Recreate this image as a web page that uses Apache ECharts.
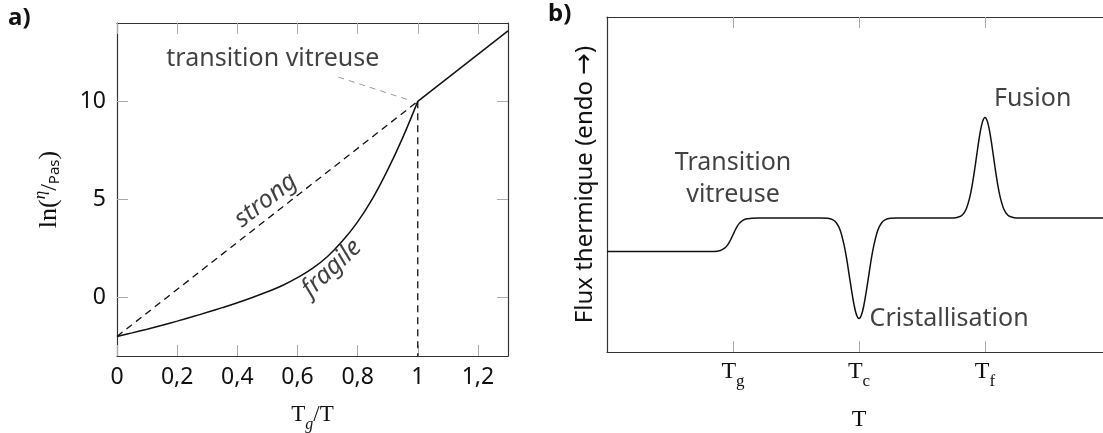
<!DOCTYPE html>
<html>
<head>
<meta charset="utf-8">
<script src="https://cdn.jsdelivr.net/npm/echarts@6/dist/echarts.min.js"></script>
<style>
html,body{margin:0;padding:0;background:#fff;}
#chart{width:1103px;height:433px;}
</style>
</head>
<body>
<div id="chart"></div>
<script>
// ---------- Panel a) : viscosity vs Tg/T ----------
const aXTicks = [0, 0.2, 0.4, 0.6, 0.8, 1.0, 1.2];
const aYTicks = [0, 5, 10];
const fragileX = [0, 0.05, 0.1, 0.15, 0.2, 0.25, 0.3, 0.35, 0.4, 0.45, 0.5, 0.55, 0.6, 0.65, 0.7, 0.75, 0.8, 0.85, 0.9, 0.95, 1.0];
const fragileY = [-2, -1.82, -1.63, -1.43, -1.22, -1.0, -0.77, -0.53, -0.28, -0.01, 0.28, 0.6, 1.0, 1.47, 2.08, 2.88, 3.85, 5.05, 6.5, 8.15, 10];
const strongX = [0, 1];
const strongY = [-2, 10];
const liquidX = [1, 1.3];
const liquidY = [10, 13.6];
const tgLineX = [1, 1];
const tgLineY = [10, -3];
const pointerX = [0.736, 0.964];
const pointerY = [11.24, 10.1];
const aNoteText = ['transition vitreuse', 'strong', 'fragile'];
const aNoteX = [0.518, 0.495, 0.714];
const aNoteY = [12.18, 4.95, 1.48];

// ---------- Panel b) : DSC curve ----------
const bTicks = [1, 2, 3];
const bTickSubs = ['g', 'c', 'f'];
const dscX = [0, 0.85, 0.9, 0.93, 0.95, 0.97, 0.99, 1.01, 1.03, 1.05, 1.07, 1.1, 1.15, 1.2,
  1.7, 1.75, 1.79, 1.82, 1.85, 1.88, 1.9, 1.92, 1.94, 1.96, 1.98, 2.0, 2.02, 2.04, 2.06, 2.08, 2.1, 2.12, 2.15, 2.18, 2.21, 2.25, 2.3,
  2.7, 2.75, 2.79, 2.82, 2.85, 2.88, 2.9, 2.92, 2.94, 2.96, 2.98, 3.0, 3.02, 3.04, 3.06, 3.08, 3.1, 3.12, 3.15, 3.18, 3.21, 3.25, 3.3, 4.0];
const dscY = [3, 3.0, 3.03, 3.09, 3.16, 3.27, 3.42, 3.58, 3.73, 3.84, 3.91, 3.97, 3.99, 4,
  4, 3.99, 3.95, 3.86, 3.64, 3.22, 2.83, 2.35, 1.86, 1.42, 1.11, 1.0, 1.11, 1.42, 1.86, 2.35, 2.83, 3.22, 3.64, 3.86, 3.95, 3.99, 4,
  4, 4.0, 4.03, 4.09, 4.26, 4.63, 5.02, 5.5, 6.03, 6.52, 6.87, 7.0, 6.87, 6.52, 6.03, 5.5, 5.02, 4.63, 4.26, 4.09, 4.03, 4.0, 4, 4];
const bNoteText = ['Transition\nvitreuse', 'Fusion', 'Cristallisation'];
const bNoteX = [1.0, 3.378, 2.084];
const bNoteY = [5.16, 7.55, 0.98];

const pairs = (xs, ys) => xs.map((x, i) => [x, ys[i]]);

const SANS = '"Noto Sans", "Open Sans", sans-serif';
const SERIF = '"Liberation Serif", "DejaVu Serif", serif';
const FRAME = '#333';
const TICK = '#aaa';
const INK = '#111';

const chart = echarts.init(document.getElementById('chart'), null, {renderer: 'canvas'});

const frameLine = {show: true, onZero: false, lineStyle: {color: FRAME, width: 1.2}};
const tickIn = (vals) => ({show: true, inside: true, length: 11, lineStyle: {color: TICK, width: 1}, customValues: vals});

const subRich = (big, small, italicSub) => ({
  t: {fontFamily: SERIF, fontSize: big, color: INK, verticalAlign: 'top', lineHeight: 30},
  s: {fontFamily: SERIF, fontSize: small, color: INK, fontStyle: italicSub ? 'italic' : 'normal', verticalAlign: 'bottom', lineHeight: 14}
});

const option = {
  animation: false,
  backgroundColor: '#fff',
  grid: [
    {left: 117, top: 23, width: 391, height: 333, outerBoundsMode: 'none', containLabel: false},
    {left: 607, top: 17, width: 504, height: 335, outerBoundsMode: 'none', containLabel: false}
  ],
  xAxis: [
    {
      gridIndex: 0, type: 'value', min: 0, max: 1.3, position: 'bottom',
      axisLine: frameLine, splitLine: {show: false},
      axisTick: tickIn(aXTicks),
      axisLabel: {
        customValues: aXTicks, margin: 10, color: INK, fontFamily: SANS, fontSize: 23,
        formatter: v => String(Math.round(v * 10) / 10).replace('.', ',')
      },
      name: '{t|T}{s|g}{t|/T}', nameLocation: 'middle', nameGap: 47,
      nameTextStyle: {rich: subRich(23, 16, true)}
    },
    {
      gridIndex: 0, type: 'value', min: 0, max: 1.3, position: 'top',
      axisLine: frameLine, splitLine: {show: false},
      axisTick: tickIn(aXTicks), axisLabel: {show: false}
    },
    {
      gridIndex: 1, type: 'value', min: 0, max: 4, position: 'bottom',
      axisLine: frameLine, splitLine: {show: false},
      axisTick: tickIn(bTicks),
      axisLabel: {
        customValues: bTicks, margin: 8,
        formatter: v => '{t|T}{s|' + bTickSubs[bTicks.indexOf(v)] + '}',
        rich: subRich(24, 17, false)
      },
      name: 'T', nameLocation: 'middle', nameGap: 56,
      nameTextStyle: {fontFamily: SERIF, fontSize: 24, color: INK}
    },
    {
      gridIndex: 1, type: 'value', min: 0, max: 4, position: 'top',
      axisLine: frameLine, splitLine: {show: false},
      axisTick: tickIn(bTicks), axisLabel: {show: false}
    }
  ],
  yAxis: [
    {
      gridIndex: 0, type: 'value', min: -3, max: 14, position: 'left',
      axisLine: frameLine, splitLine: {show: false},
      axisTick: tickIn(aYTicks),
      axisLabel: {customValues: aYTicks, margin: 11, color: INK, fontFamily: SANS, fontSize: 23},
      name: '{a|ln(}{b|η}{c|/}{d|Pas}{a|)}', nameLocation: 'middle', nameGap: 55, nameRotate: 90,
      nameTextStyle: {
        rich: {
          a: {fontFamily: SERIF, fontSize: 26, color: INK, verticalAlign: 'bottom', lineHeight: 30},
          b: {fontFamily: SERIF, fontSize: 17, fontStyle: 'italic', color: INK, verticalAlign: 'top', lineHeight: 24},
          c: {fontFamily: SERIF, fontSize: 24, color: INK, verticalAlign: 'bottom', lineHeight: 30},
          d: {fontFamily: SANS, fontSize: 15, color: INK, verticalAlign: 'bottom', lineHeight: 20}
        }
      }
    },
    {
      gridIndex: 0, type: 'value', min: -3, max: 14, position: 'right',
      axisLine: frameLine, splitLine: {show: false},
      axisTick: tickIn(aYTicks), axisLabel: {show: false}
    },
    {
      gridIndex: 1, type: 'value', min: 0, max: 10, position: 'left',
      axisLine: frameLine, splitLine: {show: false},
      axisTick: {show: false}, axisLabel: {show: false},
      name: '{a|Flux thermique (endo }{b|→}{a|)}', nameLocation: 'middle', nameGap: 9, nameRotate: 90,
      nameTextStyle: {
        rich: {
          a: {fontFamily: SANS, fontSize: 24, color: INK},
          b: {fontFamily: '"DejaVu Sans", sans-serif', fontSize: 26, color: INK}
        }
      }
    },
    {
      gridIndex: 1, type: 'value', min: 0, max: 10, position: 'right',
      axisLine: frameLine, splitLine: {show: false},
      axisTick: {show: false}, axisLabel: {show: false}
    }
  ],
  series: [
    {
      type: 'line', xAxisIndex: 0, yAxisIndex: 0, data: pairs(pointerX, pointerY),
      symbol: 'none', lineStyle: {color: '#999', width: 1, type: [6, 5]}, silent: true
    },
    {
      type: 'line', xAxisIndex: 0, yAxisIndex: 0, data: pairs(strongX, strongY),
      symbol: 'none', lineStyle: {color: INK, width: 1.3, type: [7, 5]}, silent: true
    },
    {
      type: 'line', xAxisIndex: 0, yAxisIndex: 0, data: pairs(tgLineX, tgLineY),
      symbol: 'none', lineStyle: {color: INK, width: 1.3, type: [7, 5]}, silent: true
    },
    {
      type: 'line', xAxisIndex: 0, yAxisIndex: 0, data: pairs(fragileX, fragileY),
      symbol: 'none', smooth: 0.4, lineStyle: {color: INK, width: 1.5}, silent: true
    },
    {
      type: 'line', xAxisIndex: 0, yAxisIndex: 0, data: pairs(liquidX, liquidY),
      symbol: 'none', lineStyle: {color: INK, width: 1.5}, silent: true
    },
    {
      type: 'scatter', xAxisIndex: 0, yAxisIndex: 0, symbolSize: 0, silent: true,
      data: aNoteText.map((t, i) => ({
        value: [aNoteX[i], aNoteY[i]],
        label: {
          show: true, position: 'inside', formatter: t,
          rotate: [0, 38, 43][i],
          fontStyle: i === 0 ? 'normal' : 'italic',
          fontFamily: SANS, fontSize: 25, color: INK
        }
      }))
    },
    {
      type: 'line', xAxisIndex: 2, yAxisIndex: 2, data: pairs(dscX, dscY),
      symbol: 'none', smooth: 0.35, lineStyle: {color: INK, width: 1.5}, silent: true
    },
    {
      type: 'scatter', xAxisIndex: 2, yAxisIndex: 2, symbolSize: 0, silent: true,
      data: bNoteText.map((t, i) => ({
        value: [bNoteX[i], bNoteY[i]],
        label: {
          show: true, position: i === 2 ? 'right' : 'inside', distance: 0, formatter: t,
          align: i === 2 ? 'left' : 'center',
          fontFamily: SANS, fontSize: 25, lineHeight: 32, color: INK
        }
      }))
    }
  ],
  graphic: [
    {type: 'text', left: 8, top: 6, style: {text: 'a)', font: 'bold 24px "Noto Sans", sans-serif', fill: INK}},
    {type: 'text', left: 548, top: 2, style: {text: 'b)', font: 'bold 24px "Noto Sans", sans-serif', fill: INK}}
  ]
};
chart.setOption(option);
</script>
</body>
</html>
